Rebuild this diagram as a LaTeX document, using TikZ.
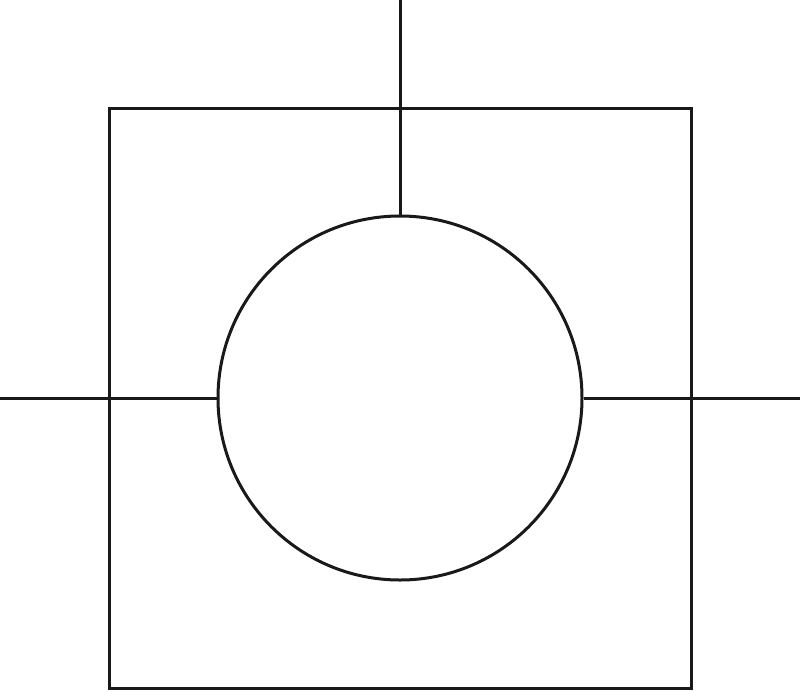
\documentclass[tikz,border=0pt]{standalone}
\begin{document}
\begin{tikzpicture}[x=1pt,y=-1pt,line width=3pt,
  frame/.style={draw=black!90},
  wire/.style={draw=black!90}]
\useasboundingbox (0,0) rectangle (800,691);
\fill[white] (0,0) rectangle (800,691);
\draw[frame] (109,108) rectangle (691,688);
\node[circle,draw=black!90,line width=3pt,minimum size=364pt,inner sep=0pt] (c) at (400,398) {};
\coordinate (top) at (400,0);
\coordinate (left) at (0,398);
\coordinate (right) at (800,398);
\draw[wire] (top) -- (c.north);
\draw[wire] (left) -- (c.west);
\draw[wire] (c.east) -- (right);
\end{tikzpicture}
\end{document}
